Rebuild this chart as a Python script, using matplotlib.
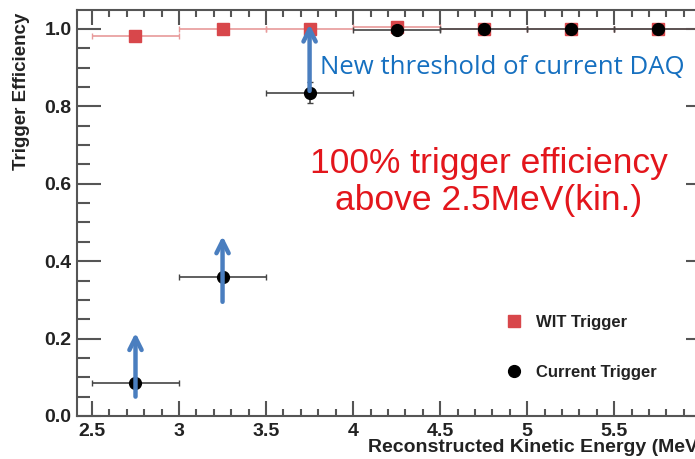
import numpy as np
import matplotlib
matplotlib.use('Agg')
import matplotlib.pyplot as plt
from matplotlib.lines import Line2D
from matplotlib.ticker import MultipleLocator

# bin centres and half widths (MeV)
energy = [2.75, 3.25, 3.75, 4.25, 4.75, 5.25, 5.75]
half_width = [0.25] * 7

# efficiencies
wit_eff = [0.983, 1.0, 1.0, 1.005, 1.0, 1.0, 1.0]
wit_err = [0.004, 0.002, 0.002, 0.002, 0.002, 0.002, 0.002]
cur_eff = [0.085, 0.36, 0.835, 0.997, 1.0, 1.0, 1.0]
cur_err = [0.008, 0.012, 0.027, 0.004, 0.002, 0.002, 0.002]

# blue arrows: (x, y_start, y_end)
arrows_x = [2.75, 3.25, 3.75]
arrows_y0 = [0.05, 0.295, 0.84]
arrows_y1 = [0.215, 0.465, 1.012]

red = '#d8474b'
blue_arrow = '#4a7ebf'

fig = plt.figure(figsize=(6.95, 4.59), dpi=100)
ax = fig.add_axes([77 / 695, 43 / 459, 633 / 695, 406 / 459])
ax.set_xlim(2.414, 6.05)
ax.set_ylim(0, 1.049)

ax.errorbar(energy, wit_eff, xerr=half_width, yerr=wit_err, fmt='s', ms=8,
            color=red, ecolor='#e89a9a', elinewidth=1.2, capsize=2.5, zorder=3)
ax.errorbar(energy, cur_eff, xerr=half_width, yerr=cur_err, fmt='o', ms=8.5,
            color='black', ecolor='#444444', elinewidth=1.2, capsize=2.5, zorder=4)

for x, y0, y1 in zip(arrows_x, arrows_y0, arrows_y1):
    ax.annotate('', xy=(x, y1), xytext=(x, y0),
                arrowprops=dict(arrowstyle='->', lw=3.2, color=blue_arrow,
                                mutation_scale=22, shrinkA=0, shrinkB=0),
                zorder=5)

# ticks, ROOT style
ax.xaxis.set_major_locator(MultipleLocator(0.5))
ax.xaxis.set_minor_locator(MultipleLocator(0.1))
ax.yaxis.set_major_locator(MultipleLocator(0.2))
ax.yaxis.set_minor_locator(MultipleLocator(0.05))
ax.xaxis.set_major_formatter(matplotlib.ticker.FuncFormatter(lambda v, p: f'{v:g}'))
ax.yaxis.set_major_formatter(matplotlib.ticker.FormatStrFormatter('%.1f'))
ax.tick_params(axis='both', which='both', direction='in', top=True, right=True,
               color='#555555', width=1.5)
ax.tick_params(axis='x', which='major', length=11, pad=5)
ax.tick_params(axis='x', which='minor', length=5)
ax.tick_params(axis='y', which='major', length=17, pad=4)
ax.tick_params(axis='y', which='minor', length=9)
for s in ax.spines.values():
    s.set_color('#555555')
    s.set_linewidth(1.5)
for lab in ax.get_xticklabels() + ax.get_yticklabels():
    lab.set_fontweight('bold')
    lab.set_fontsize(14)
    lab.set_color('#222222')
    lab.set_family('Liberation Sans')

fig.text(22 / 695, 1 - 91 / 459, 'Trigger Efficiency', rotation=90, ha='center', va='center',
         fontsize=13.5, fontweight='bold', family='Liberation Sans', color='#222222')
fig.text(368 / 695, 1 - 448 / 459, 'Reconstructed Kinetic Energy (MeV)', ha='left', va='center',
         fontsize=14, fontweight='bold', family='Liberation Sans', color='#222222')

fig.text(320 / 695, 1 - 68 / 459, 'New threshold of current DAQ', ha='left', va='center',
         fontsize=18.5, family='Open Sans', color='#1670c0')
fig.text(489 / 695, 1 - 182 / 459, '100% trigger efficiency\nabove 2.5MeV(kin.)',
         ha='center', va='center', fontsize=25.5, family='Liberation Sans',
         color='#e3161c', linespacing=1.12)

handles = [Line2D([], [], marker='s', ls='none', color=red, ms=8),
           Line2D([], [], marker='o', ls='none', color='black', ms=8.5)]
leg = ax.legend(handles, ['WIT Trigger', 'Current Trigger'], loc='upper left',
                bbox_to_anchor=(491 / 695, 1 - 300 / 459), bbox_transform=fig.transFigure,
                frameon=False, labelspacing=2.1, handletextpad=0.8, handlelength=1.0,
                prop={'family': 'Liberation Sans', 'weight': 'bold', 'size': 12})
for t in leg.get_texts():
    t.set_color('#222222')

fig.savefig('out.png', dpi=100)
